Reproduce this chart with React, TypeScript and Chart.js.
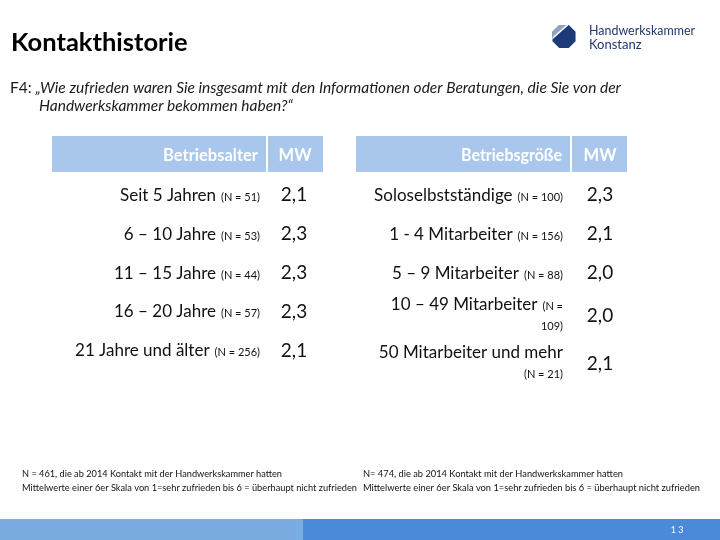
import React, { useEffect, useRef } from "react";
import { Chart, registerables } from "chart.js";

Chart.register(...registerables);

// ---------- data ----------
const titleText = "Kontakthistorie";
const questionPrefix = "F4: ";
const questionLine1 = "„Wie zufrieden waren Sie insgesamt mit den Informationen oder Beratungen, die Sie von der";
const questionLine2 = "Handwerkskammer bekommen haben?“";
const logoLines = ["Handwerkskammer", "Konstanz"];

const ageHeader = "Betriebsalter";
const ageLabels = ["Seit 5 Jahren", "6 – 10 Jahre", "11 – 15 Jahre", "16 – 20 Jahre", "21 Jahre und älter"];
const ageN = ["(N = 51)", "(N = 53)", "(N = 44)", "(N = 57)", "(N = 256)"];
const ageMW = [2.1, 2.3, 2.3, 2.3, 2.1];

const sizeHeader = "Betriebsgröße";
const sizeLabels = ["Soloselbstständige", "1 - 4 Mitarbeiter", "5 – 9 Mitarbeiter", "10 – 49 Mitarbeiter", "50 Mitarbeiter und mehr"];
// "\n" marks where the cell text wraps in the original table
const sizeN = ["(N = 100)", "(N = 156)", "(N = 88)", "(N =\n109)", "\n(N = 21)"];
const sizeMW = [2.3, 2.1, 2.0, 2.0, 2.1];

const mwHeader = "MW";
const footLeft = [
  "N = 461, die ab 2014 Kontakt mit der Handwerkskammer hatten",
  "Mittelwerte einer 6er Skala von 1=sehr zufrieden bis 6 = überhaupt nicht zufrieden",
];
const footRight = [
  "N= 474, die ab 2014 Kontakt mit der Handwerkskammer hatten",
  "Mittelwerte einer 6er Skala von 1=sehr zufrieden bis 6 = überhaupt nicht zufrieden",
];
const pageNumber = "13";

// ---------- styles ----------
const FONT = "Lato, 'Open Sans', sans-serif";
const HEADER_BG = "#A9C7EC";
const TEXT = "#111111";

const fmt = (v: number) => v.toFixed(1).replace(".", ",");

const slidePlugin = {
  id: "slide",
  beforeDraw(chart: any) {
    const ctx: CanvasRenderingContext2D = chart.ctx;
    ctx.save();
    ctx.fillStyle = "#ffffff";
    ctx.fillRect(0, 0, chart.width, chart.height);

    // title
    ctx.fillStyle = "#000";
    ctx.font = `bold 25.5px ${FONT}`;
    ctx.textAlign = "left";
    ctx.textBaseline = "alphabetic";
    ctx.fillText(titleText, 11, 51, 178);

    // question
    ctx.fillStyle = "#1a1a1a";
    ctx.font = `15.5px ${FONT}`;
    ctx.fillText(questionPrefix, 10, 93);
    const pw = ctx.measureText(questionPrefix).width;
    ctx.font = `italic 15.5px ${FONT}`;
    ctx.fillText(questionLine1, 10 + pw, 93, 627 - 10 - pw);
    ctx.fillText(questionLine2, 39, 111);

    // logo
    const cx = 564, cy = 36.5, r = 12.5;
    const oct: [number, number][] = [];
    for (let k = 0; k < 8; k++) {
      const a = (Math.PI / 8) + (k * Math.PI) / 4;
      oct.push([cx + r * Math.cos(a), cy + r * Math.sin(a)]);
    }
    ctx.beginPath();
    oct.forEach(([x, y], i) => (i ? ctx.lineTo(x, y) : ctx.moveTo(x, y)));
    ctx.closePath();
    ctx.fillStyle = "#1C3A78";
    ctx.fill();
    ctx.save();
    ctx.clip();
    ctx.beginPath();
    ctx.moveTo(cx - r - 2, cy + r * 0.35);
    ctx.lineTo(cx - r - 2, cy - r - 2);
    ctx.lineTo(cx + r * 0.55, cy - r - 2);
    ctx.closePath();
    ctx.fillStyle = "#8FA3C3";
    ctx.fill();
    ctx.beginPath();
    ctx.moveTo(cx - r - 2, cy + r * 0.35);
    ctx.lineTo(cx + r * 0.55, cy - r - 2);
    ctx.strokeStyle = "#ffffff";
    ctx.lineWidth = 1.5;
    ctx.stroke();
    ctx.restore();

    ctx.fillStyle = "#22396B";
    ctx.font = `13px ${FONT}`;
    ctx.fillText(logoLines[0], 589, 35, 106);
    ctx.fillText(logoLines[1], 589, 48.5);

    // footnotes
    ctx.fillStyle = "#111";
    ctx.font = `10px ${FONT}`;
    ctx.fillText(footLeft[0], 22, 477, 260);
    ctx.fillText(footLeft[1], 22, 491, 335);
    ctx.fillText(footRight[0], 363, 477, 260);
    ctx.fillText(footRight[1], 363, 491, 337);

    // footer band
    ctx.fillStyle = "#7AACE2";
    ctx.fillRect(0, 519, 303, 21);
    ctx.fillStyle = "#4A8AD8";
    ctx.fillRect(303, 519, 417, 21);
    ctx.fillStyle = "#ffffff";
    ctx.font = `9px ${FONT}`;
    ctx.textAlign = "center";
    ctx.fillText(pageNumber.split("").join(" "), 677, 533);

    // table headers
    const headers = [
      { x0: 52, x1: 266, m0: 268, m1: 323, text: ageHeader, tx: 258, mx: 295 },
      { x0: 356, x1: 570, m0: 572, m1: 627, text: sizeHeader, tx: 562, mx: 600 },
    ];
    headers.forEach((h) => {
      ctx.fillStyle = HEADER_BG;
      ctx.fillRect(h.x0, 136, h.x1 - h.x0, 36);
      ctx.fillRect(h.m0, 136, h.m1 - h.m0, 36);
      ctx.fillStyle = "#ffffff";
      ctx.font = `bold 16.5px ${FONT}`;
      ctx.textAlign = "right";
      ctx.fillText(h.text, h.tx, 161, 101);
      ctx.textAlign = "center";
      ctx.fillText(mwHeader, h.mx, 161);
    });
    ctx.restore();
  },
  afterDraw(chart: any) {
    const ctx: CanvasRenderingContext2D = chart.ctx;
    const yScale = chart.scales.y;
    const mainFont = `17px ${FONT}`;
    const smallFont = `11px ${FONT}`;
    const mwFont = `19px ${FONT}`;
    ctx.save();
    ctx.fillStyle = TEXT;
    ctx.textBaseline = "alphabetic";

    const tables = [
      { labels: ageLabels, ns: ageN, xr: 260, mx: 294, ds: 0 },
      { labels: sizeLabels, ns: sizeN, xr: 563, mx: 600, ds: 1 },
    ];
    tables.forEach((t) => {
      const values = chart.data.datasets[t.ds].data as number[];
      let shift = 0;
      t.labels.forEach((label, i) => {
        const parts = t.ns[i].split("\n");
        const wrapped = parts.length > 1;
        const base = yScale.getPixelForValue(i);
        const yc = base + shift + (wrapped ? 4.5 : 0);
        if (wrapped) shift += 9;
        const y1 = wrapped ? yc - 6 : yc + 6;
        // first line: main label + first part of N
        ctx.textAlign = "right";
        let xr = t.xr;
        if (parts[0]) {
          ctx.font = smallFont;
          ctx.fillText(parts[0], xr, y1);
          xr -= ctx.measureText(parts[0]).width + 5;
        }
        ctx.font = mainFont;
        ctx.fillText(label, xr, y1);
        // wrapped lines
        for (let k = 1; k < parts.length; k++) {
          ctx.font = smallFont;
          ctx.fillText(parts[k], t.xr, yc + 14 + (k - 1) * 14);
        }
        // MW value
        ctx.font = mwFont;
        ctx.textAlign = "center";
        ctx.fillText(fmt(values[i]), t.mx, yc + 6.5);
      });
    });
    ctx.restore();
  },
};

export default function App() {
  const ref = useRef<HTMLCanvasElement | null>(null);
  useEffect(() => {
    if (!ref.current) return;
    const chart = new Chart(ref.current, {
      type: "bar",
      data: {
        labels: ageLabels,
        datasets: [
          { data: ageMW, backgroundColor: "rgba(0,0,0,0)", borderWidth: 0 },
          { data: sizeMW, backgroundColor: "rgba(0,0,0,0)", borderWidth: 0 },
        ],
      },
      options: {
        indexAxis: "y",
        responsive: false,
        animation: false,
        events: [],
        layout: { padding: { top: 175.6, bottom: 170.6, left: 0, right: 0 } },
        scales: {
          x: { display: false, min: 0, max: 6 },
          y: { display: false, offset: true },
        },
        plugins: { legend: { display: false }, tooltip: { enabled: false }, title: { display: false } },
      },
      plugins: [slidePlugin],
    } as any);
    return () => chart.destroy();
  }, []);
  return (
    <div style={{ position: "fixed", left: 0, top: 0, width: 720, height: 540, background: "#fff" }}>
      <canvas ref={ref} width={720} height={540} style={{ display: "block", width: 720, height: 540 }} />
    </div>
  );
}
